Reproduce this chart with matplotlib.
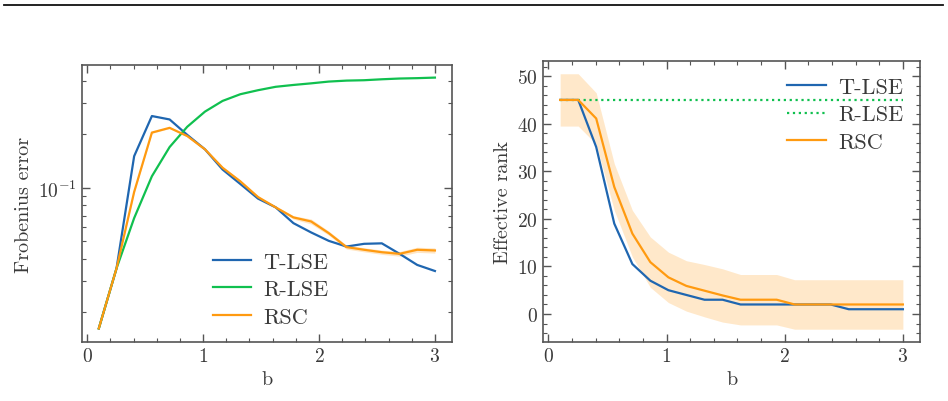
import matplotlib
matplotlib.use("Agg")
import matplotlib.pyplot as plt
from matplotlib.lines import Line2D
from matplotlib.ticker import MultipleLocator, LogLocator, NullFormatter

plt.rcParams['font.family'] = 'serif'
plt.rcParams['font.serif'] = ['cmr10', 'DejaVu Serif']
plt.rcParams['mathtext.fontset'] = 'cm'
plt.rcParams['axes.formatter.use_mathtext'] = True
plt.rcParams['axes.unicode_minus'] = False

# ---------------- data ----------------
b = [0.100, 0.253, 0.405, 0.558, 0.711, 0.863, 1.016, 1.168, 1.321, 1.474,
     1.626, 1.779, 1.932, 2.084, 2.237, 2.389, 2.542, 2.695, 2.847, 3.000]

# Frobenius error (left)
frob_tlse = [0.0162, 0.0353, 0.151, 0.254, 0.243, 0.199, 0.165, 0.127, 0.1053, 0.0871,
             0.0778, 0.0634, 0.0562, 0.0504, 0.0468, 0.0485, 0.0488, 0.0426, 0.0369, 0.0341]
frob_rlse = [0.0162, 0.0353, 0.0677, 0.1164, 0.170, 0.221, 0.269, 0.309, 0.337, 0.355,
             0.371, 0.380, 0.388, 0.397, 0.402, 0.404, 0.409, 0.413, 0.415, 0.418]
frob_rsc = [0.0162, 0.0353, 0.095, 0.205, 0.218, 0.196, 0.165, 0.130, 0.109, 0.0889,
            0.0778, 0.0683, 0.0648, 0.0557, 0.0465, 0.0449, 0.0435, 0.0426, 0.0449, 0.0445]
frob_rsc_err = [0.0002, 0.0004, 0.001, 0.002, 0.002, 0.002, 0.002, 0.0015, 0.0013, 0.0012,
                0.0012, 0.0015, 0.0021, 0.0015, 0.0012, 0.0012, 0.0012, 0.0013, 0.0015, 0.0015]

# Effective rank (right)
rank_tlse = [45, 45, 35.1, 19.0, 10.5, 7.0, 5.0, 4.0, 3.0, 3.0,
             2.0, 2.0, 2.0, 2.0, 2.0, 2.0, 1.0, 1.0, 1.0, 1.0]
rank_rlse = [45] * 20
rank_rsc = [45, 45, 41.1, 26.7, 16.9, 10.9, 7.7, 5.9, 4.9, 3.9,
            3.0, 3.0, 3.0, 2.0, 2.0, 2.0, 2.0, 2.0, 2.0, 2.0]
rank_rsc_std = [5.5, 5.5, 5.4, 4.9, 4.9, 5.3, 5.3, 5.3, 5.5, 5.6,
                5.3, 5.3, 5.3, 5.2, 5.2, 5.2, 5.2, 5.2, 5.2, 5.2]

labels = ['T-LSE', 'R-LSE', 'RSC']
c_blue, c_green, c_orange = '#1f66b0', '#10c04f', '#FF9a10'

fig = plt.figure(figsize=(9.48, 4.02), dpi=100)
ax1 = fig.add_axes([0.0865, 0.1468, 0.390, 0.689])
ax2 = fig.add_axes([0.5728, 0.1468, 0.3977, 0.699])

edge = '#555555'
txt = '#3a3a3a'
leg_kw = dict(frameon=False, fontsize=16, handlelength=1.75, handletextpad=0.55,
              labelspacing=0.36, borderpad=0, borderaxespad=0, labelcolor=txt)


def style(ax):
    for s in ax.spines.values():
        s.set_color(edge)
        s.set_linewidth(1.2)
    ax.tick_params(which='both', direction='in', top=True, right=True,
                   color=edge, labelcolor=txt, labelsize=14)
    ax.tick_params(which='major', length=6, width=1.0)
    ax.tick_params(which='minor', length=3, width=0.8)
    ax.xaxis.set_major_locator(MultipleLocator(1))
    ax.xaxis.set_minor_locator(MultipleLocator(0.2))


# Left plot
lo = [v - e for v, e in zip(frob_rsc, frob_rsc_err)]
hi = [v + e for v, e in zip(frob_rsc, frob_rsc_err)]
ax1.plot(b, frob_tlse, color=c_blue, lw=1.6, label=labels[0])
ax1.plot(b, frob_rlse, color=c_green, lw=1.6, label=labels[1])
ax1.fill_between(b, lo, hi, color=c_orange, alpha=0.25, lw=0)
ax1.plot(b, frob_rsc, color=c_orange, lw=1.6, label=labels[2])
ax1.set_yscale('log')
ax1.yaxis.set_minor_locator(LogLocator(base=10, subs=range(2, 10)))
ax1.yaxis.set_minor_formatter(NullFormatter())
style(ax1)
ax1.set_xlabel('b', fontsize=14.5, color=txt)
ax1.set_ylabel('Frobenius error', fontsize=14.5, color=txt)
ax1.legend(loc='lower left', bbox_to_anchor=(0.353, 0.055), **leg_kw)

# Right plot
lo2 = [v - e for v, e in zip(rank_rsc, rank_rsc_std)]
hi2 = [v + e for v, e in zip(rank_rsc, rank_rsc_std)]
ax2.plot(b, rank_tlse, color=c_blue, lw=1.6, label=labels[0])
ax2.plot(b, rank_rlse, color=c_green, lw=1.6, ls=':', label=labels[1])
ax2.fill_between(b, lo2, hi2, color=c_orange, alpha=0.22, lw=0)
ax2.plot(b, rank_rsc, color=c_orange, lw=1.6, label=labels[2])
style(ax2)
ax2.yaxis.set_major_locator(MultipleLocator(10))
ax2.yaxis.set_minor_locator(MultipleLocator(2))
ax2.set_xlabel('b', fontsize=14.5, color=txt)
ax2.set_ylabel('Effective rank', fontsize=14.5, color=txt)
ax2.legend(loc='upper right', bbox_to_anchor=(0.955, 0.942), **leg_kw)

# page rule at top
fig.add_artist(Line2D([0.004, 0.995], [0.985, 0.985], transform=fig.transFigure,
                      color='#111111', lw=1.3))

fig.savefig('out.png', dpi=100)
